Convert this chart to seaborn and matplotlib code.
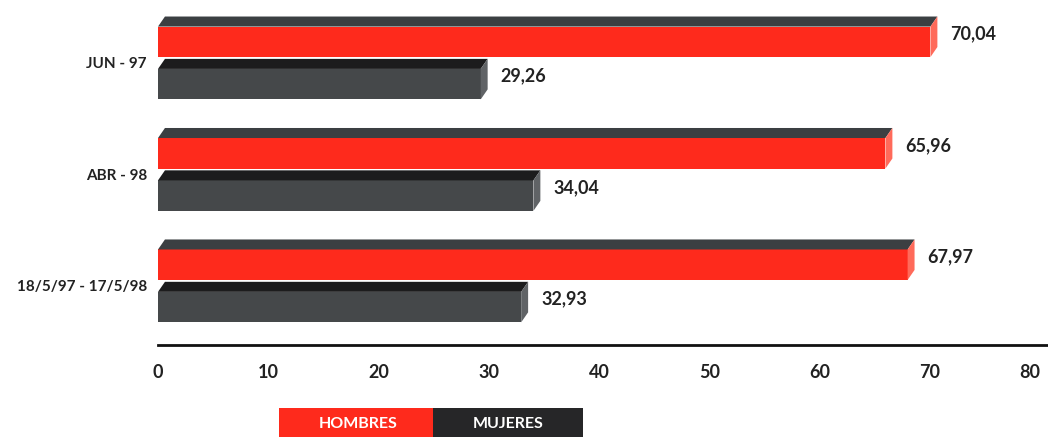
import pandas as pd
import seaborn as sns
import matplotlib.pyplot as plt
from matplotlib.patches import Polygon, Rectangle

# datos
periodos = ["JUN - 97", "ABR - 98", "18/5/97 - 17/5/98"]
hombres = [70.04, 65.96, 67.97]
mujeres = [29.26, 34.04, 32.93]
ticks_x = [0, 10, 20, 30, 40, 50, 60, 70, 80]

rojo = "#fe2a1c"
gris = "#45484a"
caras = {0: ("#3b3f42", "#ff6a5a"), 1: ("#1c1c1d", "#606366")}

df = pd.DataFrame({
    "periodo": periodos * 2,
    "pct": hombres + mujeres,
    "sexo": ["HOMBRES"] * 3 + ["MUJERES"] * 3,
})

sns.set_style("white")
plt.rcParams["font.family"] = ["Lato", "DejaVu Sans"]
texto = "#222222"
peso = "bold"

fig = plt.figure(figsize=(10.48, 4.37), dpi=100)
ax = fig.add_axes([158 / 1048, 92 / 437, 890 / 1048, 345 / 437])

sns.barplot(data=df, y="periodo", x="pct", hue="sexo", orient="h",
            palette=[rojo, gris], saturation=1, width=0.76, gap=0.28,
            linewidth=0, legend=False, ax=ax)

ax.set_xlim(0, 80.7)
ax.set_ylim(2.53, -0.565)

# efecto 3D: cara superior y lateral
dx = 0.63   # unidades x (~7 px)
dy = 0.09   # unidades y (~10 px)
for i, cont in enumerate(ax.containers):
    c_sup, c_lat = caras[i]
    for bar in cont:
        x0, y0 = bar.get_x(), bar.get_y()
        w, h = bar.get_width(), bar.get_height()
        sup = Polygon([(x0, y0), (x0 + w, y0), (x0 + w + dx, y0 - dy), (x0 + dx, y0 - dy)],
                      closed=True, facecolor=c_sup, edgecolor="none", zorder=3)
        lat = Polygon([(x0 + w, y0), (x0 + w + dx, y0 - dy), (x0 + w + dx, y0 + h - dy), (x0 + w, y0 + h)],
                      closed=True, facecolor=c_lat, edgecolor="none", zorder=3)
        ax.add_patch(sup)
        ax.add_patch(lat)
        ax.annotate(f"{w:.2f}".replace(".", ","), xy=(x0 + w, y0 + h / 2),
                    xytext=(20, 8), textcoords="offset pixels", ha="left", va="center",
                    fontsize=13, fontweight=peso, color=texto)

ax.set_xticks(ticks_x)
ax.set_xticklabels([str(t) for t in ticks_x], fontsize=13, fontweight=peso, color=texto)
# la etiqueta 80 queda en el borde: alinearla a la derecha
ax.xaxis.get_major_ticks()[-1].label1.set_horizontalalignment("right")
for lbl in ax.get_yticklabels():
    lbl.set_fontsize(11)
    lbl.set_fontweight(peso)
    lbl.set_color(texto)
ax.tick_params(axis="x", length=0, pad=14)
ax.tick_params(axis="y", length=0, pad=8)
ax.set_xlabel("")
ax.set_ylabel("")

sns.despine(ax=ax, left=True)
ax.spines["bottom"].set_linewidth(2)
ax.spines["bottom"].set_color("#111111")

# leyenda en cajas
fig.add_artist(Rectangle((279 / 1048, 0), 154 / 1048, 29 / 437, transform=fig.transFigure,
                         facecolor=rojo, edgecolor="none"))
fig.add_artist(Rectangle((433 / 1048, 0), 150 / 1048, 29 / 437, transform=fig.transFigure,
                         facecolor="#262628", edgecolor="none"))
fig.text(358 / 1048, 13 / 437, "HOMBRES", color="white", fontsize=11.5, fontweight=peso,
         ha="center", va="center")
fig.text(508 / 1048, 13 / 437, "MUJERES", color="white", fontsize=11.5, fontweight=peso,
         ha="center", va="center")

fig.savefig("out.png", dpi=100)
